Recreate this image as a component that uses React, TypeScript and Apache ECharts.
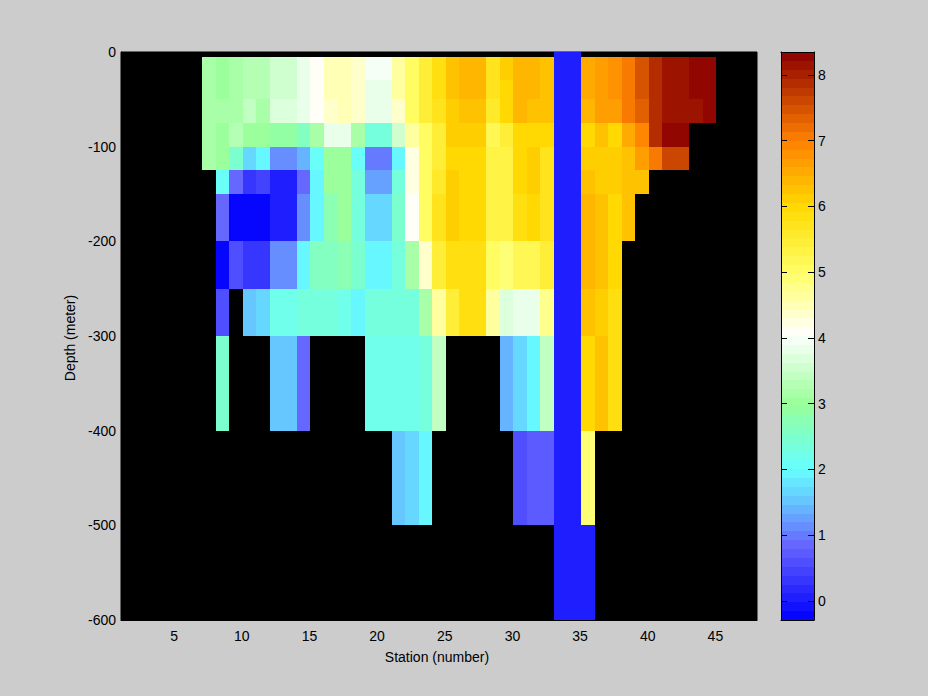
import React, { useEffect, useRef } from "react";
import * as echarts from "echarts";

const FONT = "'Liberation Sans', Arial, sans-serif";
const X_MIN = 1;
const X_MAX = 48;
const Y_MIN = -600;
const Y_MAX = 0;
const C_MIN = -0.29;
const C_MAX = 8.35;
const LEVELS = 64;
const stationTicks = [5, 10, 15, 20, 25, 30, 35, 40, 45];
const colorTicks = [0, 1, 2, 3, 4, 5, 6, 7, 8];
const firstStation = 7;

// value, r, g, b
const colorStops = [
  [-0.29, 0, 0, 255],
  [0.85, 102, 102, 255],
  [1.5, 102, 195, 255],
  [2, 102, 255, 255],
  [2.5, 125, 255, 205],
  [3, 153, 255, 153],
  [4.05, 255, 255, 255],
  [5, 255, 255, 102],
  [6, 255, 217, 0],
  [7, 255, 128, 0],
  [8.35, 139, 0, 0],
];

const _ = null;
const depthEdges = [0, -5, -30, -50, -75, -100, -125, -150, -200, -250, -300, -400, -500, -600];

// stations 7 to 44, one array per depth band
const row0 = [_,_,_,_,_,_,_,_,_,_,_,_,_,_,_,_,_,_,_,_,_,_,_,_,_,_,0.1,0.1,_,_,_,_,_,_,_,_,_,_];
const row1 = [3.1,3.0,3.1,3.3,3.3,3.6,3.6,3.85,4.1,4.5,4.5,4.4,3.98,3.98,4.6,5.05,5.45,5.8,6.3,6.45,6.45,5.75,6.15,6.45,6.45,6.3,0.1,0.1,6.5,6.7,6.8,7.1,7.5,7.9,8.1,8.1,8.3,8.3];
const row2 = [3.1,3.0,3.1,3.3,3.3,3.6,3.6,3.85,4.1,4.5,4.5,4.4,3.85,3.85,4.6,5.05,5.45,5.8,6.3,6.45,6.45,5.75,6.05,6.45,6.45,6.3,0.1,0.1,6.5,6.7,6.8,7.1,7.5,7.9,8.1,8.1,8.3,8.3];
const row3 = [3.1,3.1,3.1,3.4,3.15,3.7,3.7,3.85,4.05,4.3,4.55,4.35,3.85,3.85,4.4,5.05,5.45,5.65,6.15,6.3,6.3,5.6,6.05,6.45,6.3,6.3,0.1,0.1,6.35,6.6,6.7,7.1,7.35,7.9,8.1,8.1,8.1,8.3];
const row4 = [3.1,3.0,3.25,3.05,3.05,2.85,2.85,2.6,3.1,3.8,3.8,3.1,2.4,2.4,3.6,4.6,5.0,5.45,6.1,6.15,6.15,5.2,5.5,6.0,6.0,6.0,0.1,0.1,6.05,6.2,6.05,6.5,6.95,7.9,8.3,8.3,_,_];
const row5 = [3.1,3.0,2.5,1.6,1.9,1.15,1.15,1.45,2.1,2.95,2.95,2.1,1.05,1.05,2.0,4.2,5.0,5.5,6.0,6.0,6.0,5.3,5.3,6.0,6.1,5.65,0.1,0.1,6.1,6.1,6.1,6.3,6.65,7.1,7.6,7.6,_,_];
const row6 = [_,2.05,0.9,0.33,0.5,0.1,0.1,0.83,1.9,2.95,2.95,2.3,1.3,1.3,2.4,4.2,5.05,5.6,6.15,6.0,6.0,5.3,5.3,6.0,6.1,5.7,0.1,0.1,6.2,6.1,6.1,6.25,6.25,_,_,_,_,_];
const row7 = [_,0.85,-0.2,-0.2,-0.2,0.1,0.1,1.1,2.0,2.8,3.0,2.4,1.6,1.6,2.5,4.05,5.0,5.7,6.15,6.0,6.0,5.3,5.3,5.85,6.0,5.75,0.1,0.1,6.45,6.2,6.05,6.3,_,_,_,_,_,_];
const row8 = [_,-0.2,0.55,0.38,0.38,1.15,1.15,2.0,2.6,2.6,2.75,2.5,2.0,2.0,2.4,3.1,4.35,5.4,5.9,5.9,5.9,5.1,4.85,5.2,5.2,5.4,0.1,0.1,6.45,6.2,6.05,_,_,_,_,_,_,_];
const row9 = [_,0.55,_,1.55,1.7,2.15,2.15,2.35,2.35,2.35,2.2,2.0,2.3,2.3,2.3,2.4,3.1,4.6,5.45,5.85,5.85,4.6,3.65,3.85,3.85,4.8,0.1,0.1,6.3,6.15,5.9,_,_,_,_,_,_,_];
const row10 = [_,2.5,_,_,_,1.5,1.5,0.85,_,_,_,_,2.2,2.2,2.2,2.2,2.4,3.4,_,_,_,_,1.45,1.65,2.0,3.45,0.1,0.1,6.05,6.25,5.85,_,_,_,_,_,_,_];
const row11 = [_,_,_,_,_,_,_,_,_,_,_,_,_,_,1.5,1.7,1.95,_,_,_,_,_,_,0.55,0.72,0.72,0.1,0.1,4.95,_,_,_,_,_,_,_,_,_];
const row12 = [_,_,_,_,_,_,_,_,_,_,_,_,_,_,_,_,_,_,_,_,_,_,_,_,_,_,0.1,0.1,0.1,_,_,_,_,_,_,_,_,_];

const rows = [row0, row1, row2, row3, row4, row5, row6, row7, row8, row9, row10, row11, row12];

function bandColor(level: number): string {
  const v = C_MIN + ((level + 0.5) / LEVELS) * (C_MAX - C_MIN);
  for (let i = 1; i < colorStops.length; i++) {
    const a = colorStops[i - 1];
    const b = colorStops[i];
    if (v <= b[0]) {
      const t = (v - a[0]) / (b[0] - a[0]);
      const c = [1, 2, 3].map((k) => Math.round(a[k] + (b[k] - a[k]) * t));
      return `rgb(${c[0]},${c[1]},${c[2]})`;
    }
  }
  return "rgb(139,0,0)";
}

function levelOf(v: number): number {
  const l = Math.floor(((v - C_MIN) / (C_MAX - C_MIN)) * LEVELS);
  return Math.max(0, Math.min(LEVELS - 1, l));
}

const cells: number[][] = [];
rows.forEach((row, r) => {
  row.forEach((v, i) => {
    if (v !== null) {
      const s = firstStation + i;
      cells.push([s, s + 1, depthEdges[r], depthEdges[r + 1], v]);
    }
  });
});

const bands: number[][] = [];
for (let l = 0; l < LEVELS; l++) {
  const lo = C_MIN + (l / LEVELS) * (C_MAX - C_MIN);
  const hi = C_MIN + ((l + 1) / LEVELS) * (C_MAX - C_MIN);
  bands.push([0, 1, lo, hi, l]);
}

function rectItem(params: any, api: any, color: string) {
  const p0 = api.coord([api.value(0), api.value(2)]);
  const p1 = api.coord([api.value(1), api.value(3)]);
  const x0 = Math.round(p0[0]);
  const x1 = Math.round(p1[0]);
  const y0 = Math.round(Math.min(p0[1], p1[1]));
  const y1 = Math.round(Math.max(p0[1], p1[1]));
  return {
    type: "rect",
    shape: { x: x0, y: y0, width: x1 - x0, height: y1 - y0 },
    style: { fill: color, stroke: null },
  };
}

const textStyle = { color: "#000", fontFamily: FONT, fontSize: 14 };

export default function App() {
  const ref = useRef<HTMLDivElement>(null);
  useEffect(() => {
    document.body.style.margin = "0";
    document.body.style.background = "#cccccc";
    const chart = echarts.init(ref.current!, undefined, { renderer: "svg" });
    const line = { show: true, onZero: false, lineStyle: { color: "#000", width: 1 } };
    const hidden = { show: false };
    chart.setOption({
      animation: false,
      backgroundColor: "#cccccc",
      grid: [
        { left: 121, top: 52, width: 636, height: 568, show: true, backgroundColor: "#000", borderColor: "#000", borderWidth: 1 },
        { left: 781, top: 52, width: 33, height: 568, show: false },
      ],
      xAxis: [
        {
          gridIndex: 0, type: "value", min: X_MIN, max: X_MAX, position: "bottom",
          name: "Station (number)", nameLocation: "middle", nameGap: 30,
          nameTextStyle: { ...textStyle, padding: [0, 4, 0, 0] },
          splitLine: hidden, axisLine: line,
          axisTick: { show: true, inside: true, length: 6, customValues: stationTicks, lineStyle: { color: "#000" } },
          axisLabel: { ...textStyle, margin: 9, padding: [0, 2, 0, 0], customValues: stationTicks, hideOverlap: false },
        },
        { gridIndex: 1, type: "value", min: 0, max: 1, position: "bottom", splitLine: hidden, axisLine: line, axisTick: hidden, axisLabel: hidden, z: 5 },
        { gridIndex: 1, type: "value", min: 0, max: 1, position: "top", splitLine: hidden, axisLine: line, axisTick: hidden, axisLabel: hidden, z: 5 },
      ],
      yAxis: [
        {
          gridIndex: 0, type: "value", min: Y_MIN, max: Y_MAX, interval: 100, position: "left",
          name: "Depth (meter)", nameLocation: "middle", nameGap: 41, nameRotate: 90,
          nameTextStyle: { ...textStyle, padding: [0, 4, 0, 0] },
          splitLine: hidden, axisLine: line,
          axisTick: { show: true, inside: true, length: 6, lineStyle: { color: "#000" } },
          axisLabel: { ...textStyle, margin: 5, padding: [3, 0, 0, 0] },
        },
        {
          gridIndex: 1, type: "value", min: C_MIN, max: C_MAX, position: "right", z: 5,
          splitLine: hidden, axisLine: line,
          axisTick: { show: true, inside: true, length: 6, customValues: colorTicks, lineStyle: { color: "#000" } },
          axisLabel: { ...textStyle, margin: 4, padding: [3, 0, 0, 0], customValues: colorTicks, hideOverlap: false },
        },
        {
          gridIndex: 1, type: "value", min: C_MIN, max: C_MAX, position: "left", z: 5,
          splitLine: hidden, axisLine: line,
          axisTick: { show: true, inside: true, length: 6, customValues: colorTicks, lineStyle: { color: "#000" } },
          axisLabel: hidden,
        },
      ],
      series: [
        {
          type: "custom", xAxisIndex: 0, yAxisIndex: 0, data: cells, silent: true, clip: true,
          encode: { x: [0, 1], y: [2, 3] },
          renderItem: (p: any, api: any) => rectItem(p, api, bandColor(levelOf(api.value(4)))),
        },
        {
          type: "custom", xAxisIndex: 1, yAxisIndex: 1, data: bands, silent: true,
          encode: { x: [0, 1], y: [2, 3] },
          renderItem: (p: any, api: any) => rectItem(p, api, bandColor(api.value(4))),
        },
      ],
    });
    return () => chart.dispose();
  }, []);
  return <div ref={ref} style={{ width: 928, height: 696 }} />;
}
